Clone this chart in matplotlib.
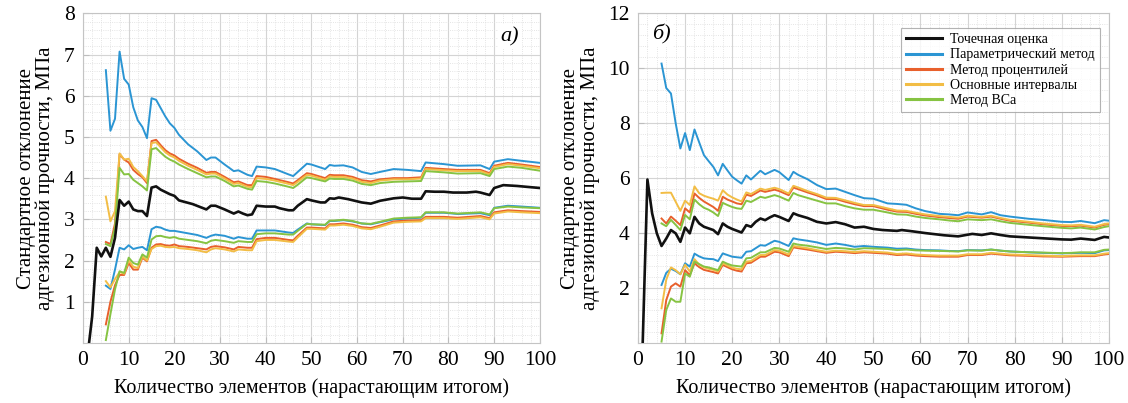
import numpy as np
import matplotlib.pyplot as plt
from matplotlib.ticker import MultipleLocator

plt.rcParams['font.family'] = ['Liberation Serif', 'DejaVu Serif']
plt.rcParams['font.serif'] = ['Liberation Serif', 'DejaVu Serif']

names = ['Точечная оценка', 'Параметрический метод', 'Метод процентилей',
         'Основные интервалы', 'Метод BCa']
colors = ['#111111', '#2b95d3', '#e8602c', '#f2bd45', '#86c342']

# ---- panel a) ----
x_pt_a = [1, 2, 3, 4, 5, 6, 7, 8, 9, 10, 11, 12, 13, 14, 15, 16, 17,
          19, 20, 21, 24, 27, 28, 29, 31, 33, 34, 35, 36, 37, 38,
          40, 42, 43, 45, 46, 47, 49, 50, 52, 53, 54, 55, 56, 58,
          61, 63, 65, 68, 70, 72, 74, 75, 77, 79, 81, 84, 86, 87, 89, 90, 92, 95, 100]
pt_a = [-0.3, 0.64, 2.31, 2.1, 2.31, 2.09, 2.55, 3.47, 3.33, 3.43, 3.24, 3.2, 3.2, 3.08, 3.77, 3.8, 3.72,
        3.61, 3.57, 3.46, 3.37, 3.24, 3.33, 3.33, 3.24, 3.14, 3.19, 3.14, 3.1, 3.12, 3.33,
        3.31, 3.31, 3.27, 3.22, 3.22, 3.33, 3.49, 3.46, 3.41, 3.41, 3.51, 3.5, 3.53, 3.49,
        3.41, 3.38, 3.45, 3.51, 3.53, 3.5, 3.5, 3.68, 3.67, 3.67, 3.65, 3.65, 3.67, 3.65, 3.59, 3.76, 3.83, 3.81, 3.76]

x_ci_a = [5, 6, 7, 8, 9, 10, 11, 12, 13, 14, 15, 16, 17, 18, 19, 20, 21,
          23, 25, 27, 28, 29, 31, 33, 34, 36, 37, 38,
          40, 42, 45, 46, 47, 49, 50, 53, 54, 55, 57, 59,
          61, 63, 65, 68, 71, 74, 75, 79, 82, 87, 89, 90, 93, 96, 100]

param_hi_a = [6.62, 5.15, 5.44, 7.07, 6.41, 6.27, 5.72, 5.4, 5.24, 4.97, 5.94, 5.9, 5.7, 5.5, 5.33, 5.22, 5.05,
              4.82, 4.65, 4.44, 4.5, 4.5, 4.33, 4.17, 4.19, 4.08, 4.05, 4.28,
              4.26, 4.22, 4.09, 4.05, 4.15, 4.35, 4.33, 4.22, 4.32, 4.3, 4.31, 4.26,
              4.15, 4.1, 4.15, 4.22, 4.2, 4.17, 4.38, 4.34, 4.3, 4.31, 4.22, 4.4, 4.46, 4.42, 4.37]
perc_hi_a = [2.45, 2.4, 2.9, 4.58, 4.45, 4.38, 4.2, 4.1, 4.02, 3.88, 4.9, 4.93, 4.8, 4.68, 4.6, 4.55, 4.47,
             4.35, 4.25, 4.13, 4.15, 4.15, 4.03, 3.9, 3.92, 3.83, 3.83, 4.05,
             4.03, 3.98, 3.9, 3.87, 3.95, 4.12, 4.1, 4.0, 4.08, 4.07, 4.07, 4.03,
             3.95, 3.92, 3.97, 4.0, 4.0, 4.02, 4.25, 4.22, 4.2, 4.2, 4.12, 4.3, 4.37, 4.33, 4.27]
basic_hi_a = [3.55, 2.95, 3.2, 4.6, 4.45, 4.47, 4.27, 4.17, 4.05, 3.92, 4.85, 4.87, 4.75, 4.63, 4.55, 4.5, 4.42,
              4.3, 4.2, 4.09, 4.11, 4.11, 3.99, 3.86, 3.88, 3.79, 3.78, 4.0,
              3.98, 3.94, 3.86, 3.83, 3.91, 4.08, 4.06, 3.96, 4.04, 4.03, 4.03, 3.99,
              3.91, 3.88, 3.94, 3.97, 3.97, 3.99, 4.22, 4.19, 4.17, 4.17, 4.09, 4.27, 4.34, 4.3, 4.24]
bca_hi_a = [2.4, 2.35, 2.8, 4.25, 4.09, 4.1, 3.96, 3.88, 3.8, 3.7, 4.7, 4.73, 4.62, 4.52, 4.45, 4.4, 4.33,
            4.22, 4.12, 4.02, 4.04, 4.04, 3.93, 3.8, 3.82, 3.74, 3.72, 3.93,
            3.91, 3.87, 3.79, 3.76, 3.84, 4.02, 4.0, 3.92, 3.99, 3.98, 3.98, 3.94,
            3.86, 3.83, 3.88, 3.91, 3.92, 3.93, 4.17, 4.14, 4.11, 4.12, 4.05, 4.22, 4.28, 4.25, 4.18]

param_lo_a = [1.39, 1.31, 1.78, 2.31, 2.27, 2.37, 2.28, 2.31, 2.33, 2.25, 2.76, 2.82, 2.8, 2.75, 2.72, 2.72, 2.7,
              2.66, 2.62, 2.55, 2.6, 2.63, 2.6, 2.53, 2.57, 2.53, 2.53, 2.73,
              2.73, 2.73, 2.68, 2.67, 2.75, 2.9, 2.88, 2.86, 2.96, 2.96, 2.98, 2.95,
              2.9, 2.88, 2.93, 3.0, 3.02, 3.04, 3.16, 3.16, 3.13, 3.15, 3.1, 3.28, 3.33, 3.31, 3.28]
perc_lo_a = [0.45, 1.0, 1.4, 1.65, 1.65, 1.94, 1.78, 1.78, 2.07, 1.98, 2.31, 2.39, 2.4, 2.37, 2.36, 2.39, 2.35,
             2.33, 2.3, 2.27, 2.33, 2.35, 2.32, 2.27, 2.33, 2.31, 2.31, 2.52,
             2.55, 2.55, 2.5, 2.49, 2.6, 2.8, 2.8, 2.78, 2.88, 2.88, 2.9, 2.87,
             2.81, 2.79, 2.85, 2.95, 2.97, 2.98, 3.06, 3.06, 3.04, 3.08, 3.03, 3.17, 3.22, 3.2, 3.18]
basic_lo_a = [1.5, 1.35, 1.55, 1.72, 1.68, 2.0, 1.85, 1.82, 2.1, 2.0, 2.28, 2.35, 2.36, 2.33, 2.32, 2.33, 2.3,
              2.28, 2.25, 2.2, 2.27, 2.3, 2.27, 2.22, 2.27, 2.25, 2.25, 2.47,
              2.5, 2.5, 2.46, 2.45, 2.56, 2.77, 2.77, 2.75, 2.85, 2.85, 2.87, 2.84,
              2.78, 2.76, 2.82, 2.92, 2.94, 2.95, 3.03, 3.03, 3.01, 3.05, 3.0, 3.14, 3.19, 3.17, 3.15]
bca_lo_a = [0.07, 0.7, 1.3, 1.74, 1.7, 2.07, 1.94, 1.9, 2.15, 2.07, 2.51, 2.59, 2.6, 2.57, 2.55, 2.57, 2.53,
            2.5, 2.47, 2.42, 2.48, 2.5, 2.47, 2.43, 2.47, 2.45, 2.45, 2.64,
            2.66, 2.66, 2.63, 2.63, 2.72, 2.89, 2.88, 2.87, 2.97, 2.97, 2.99, 2.96,
            2.9, 2.89, 2.94, 3.02, 3.04, 3.05, 3.17, 3.17, 3.14, 3.17, 3.12, 3.27, 3.31, 3.29, 3.27]

# ---- panel б) ----
x_pt_b = [1, 2, 3, 4, 5, 6, 7, 8, 9, 10, 11, 12, 13, 14, 15, 16, 17, 18, 19, 20,
          22, 23, 24, 25, 26, 27, 28, 29, 30,
          32, 33, 34, 36, 38, 40, 42, 44, 46, 48, 50, 52, 55, 56, 58, 61, 63, 65, 68, 70, 71,
          73, 75, 77, 79, 83, 86, 88, 90, 92, 94, 97, 99, 100]
pt_b = [0.0, 5.95, 4.72, 3.99, 3.53, 3.8, 4.11, 3.99, 3.68, 4.2, 3.99, 4.59, 4.35, 4.23, 4.17, 4.11, 3.96, 4.35, 4.23, 4.15,
        4.02, 4.29, 4.23, 4.41, 4.53, 4.47, 4.57, 4.65, 4.59,
        4.44, 4.72, 4.65, 4.55, 4.41, 4.35, 4.4, 4.32, 4.2, 4.23, 4.15, 4.11, 4.08, 4.11, 4.07, 4.0, 3.96, 3.92, 3.88, 3.94, 3.97,
        3.93, 3.99, 3.93, 3.88, 3.84, 3.81, 3.79, 3.77, 3.76, 3.8, 3.75, 3.86, 3.84]

x_ci_b = [5, 6, 7, 8, 9, 10, 11, 12, 13, 14, 15, 16, 17, 18, 19, 20, 21, 22, 23, 24,
          26, 27, 29, 30, 32, 33, 34, 36, 38, 40, 42, 44, 46, 48, 50, 53, 55, 57, 59, 61,
          64, 66, 68, 70, 73, 75, 77, 79, 83, 86, 90, 92, 94, 97, 99, 100]

param_hi_b = [10.17, 9.28, 9.08, 8.0, 7.08, 7.64, 7.02, 7.77, 7.3, 6.84, 6.62, 6.41, 6.1, 6.52, 6.28, 6.05, 5.92, 5.8, 6.1, 5.95,
              6.27, 6.14, 6.3, 6.22, 5.93, 6.23, 6.12, 5.96, 5.75, 5.6, 5.62, 5.5, 5.38, 5.27, 5.25, 5.08, 5.06, 5.03, 4.9, 4.8,
              4.7, 4.68, 4.65, 4.75, 4.68, 4.76, 4.65, 4.6, 4.52, 4.48, 4.41, 4.4, 4.44, 4.36, 4.47, 4.45]
perc_hi_b = [4.53, 4.35, 4.6, 4.45, 4.29, 4.9, 4.75, 5.44, 5.28, 5.15, 5.05, 4.95, 4.81, 5.32, 5.22, 5.15, 5.08, 5.05, 5.4, 5.35,
             5.55, 5.5, 5.58, 5.53, 5.38, 5.66, 5.6, 5.48, 5.37, 5.24, 5.24, 5.14, 5.05, 4.98, 4.98, 4.85, 4.78, 4.77, 4.7, 4.64,
             4.58, 4.55, 4.52, 4.6, 4.56, 4.6, 4.52, 4.45, 4.38, 4.32, 4.26, 4.25, 4.27, 4.2, 4.3, 4.32]
basic_hi_b = [5.46, 5.47, 5.47, 5.14, 4.81, 5.18, 5.02, 5.7, 5.45, 5.36, 5.3, 5.25, 5.18, 5.56, 5.4, 5.3, 5.22, 5.15, 5.48, 5.42,
              5.62, 5.57, 5.65, 5.6, 5.44, 5.72, 5.66, 5.53, 5.42, 5.29, 5.28, 5.19, 5.1, 5.02, 5.02, 4.9, 4.82, 4.81, 4.74, 4.68,
              4.62, 4.59, 4.56, 4.63, 4.59, 4.63, 4.55, 4.48, 4.41, 4.35, 4.29, 4.28, 4.3, 4.23, 4.33, 4.35]
bca_hi_b = [4.35, 4.25, 4.48, 4.3, 4.11, 4.66, 4.5, 5.22, 5.05, 4.92, 4.85, 4.75, 4.62, 5.1, 5.02, 4.95, 4.9, 4.88, 5.18, 5.13,
            5.32, 5.28, 5.38, 5.33, 5.18, 5.46, 5.38, 5.28, 5.18, 5.08, 5.08, 4.98, 4.9, 4.85, 4.85, 4.75, 4.68, 4.67, 4.6, 4.55,
            4.5, 4.46, 4.43, 4.5, 4.47, 4.5, 4.43, 4.37, 4.3, 4.25, 4.19, 4.17, 4.2, 4.13, 4.22, 4.25]

param_lo_b = [2.11, 2.55, 2.7, 2.62, 2.5, 2.9, 2.78, 3.25, 3.15, 3.08, 3.06, 3.05, 2.98, 3.26, 3.2, 3.14, 3.12, 3.1, 3.32, 3.34,
              3.56, 3.54, 3.72, 3.68, 3.53, 3.81, 3.77, 3.72, 3.66, 3.57, 3.62, 3.57, 3.5, 3.53, 3.5, 3.47, 3.43, 3.44, 3.4, 3.38,
              3.37, 3.35, 3.34, 3.38, 3.37, 3.4, 3.36, 3.33, 3.3, 3.28, 3.26, 3.27, 3.28, 3.27, 3.37, 3.38]
perc_lo_b = [0.35, 1.56, 2.05, 2.17, 2.05, 2.65, 2.47, 2.9, 2.76, 2.66, 2.62, 2.58, 2.53, 2.84, 2.76, 2.68, 2.63, 2.6, 2.9, 2.92,
             3.14, 3.14, 3.32, 3.3, 3.16, 3.48, 3.45, 3.4, 3.34, 3.28, 3.32, 3.3, 3.27, 3.3, 3.28, 3.25, 3.2, 3.22, 3.18, 3.16,
             3.14, 3.14, 3.14, 3.2, 3.2, 3.25, 3.22, 3.19, 3.17, 3.15, 3.14, 3.15, 3.16, 3.16, 3.22, 3.24]
basic_lo_b = [1.26, 2.3, 2.75, 2.65, 2.5, 2.85, 2.6, 3.05, 2.85, 2.75, 2.7, 2.66, 2.6, 2.9, 2.82, 2.74, 2.7, 2.68, 2.96, 2.98,
              3.2, 3.2, 3.38, 3.36, 3.22, 3.53, 3.5, 3.45, 3.38, 3.32, 3.36, 3.34, 3.31, 3.34, 3.32, 3.29, 3.24, 3.26, 3.22, 3.2,
              3.18, 3.18, 3.18, 3.23, 3.23, 3.28, 3.25, 3.22, 3.2, 3.18, 3.16, 3.18, 3.19, 3.19, 3.25, 3.27]
bca_lo_b = [0.05, 1.2, 1.62, 1.5, 1.5, 2.53, 2.41, 2.96, 2.87, 2.78, 2.75, 2.7, 2.65, 2.96, 2.88, 2.82, 2.8, 2.78, 3.08, 3.1,
            3.3, 3.3, 3.46, 3.44, 3.32, 3.62, 3.58, 3.54, 3.48, 3.42, 3.46, 3.44, 3.4, 3.45, 3.44, 3.42, 3.38, 3.4, 3.37, 3.36,
            3.35, 3.34, 3.33, 3.37, 3.36, 3.4, 3.36, 3.33, 3.3, 3.29, 3.27, 3.28, 3.3, 3.3, 3.39, 3.4]

yticks_a = [1, 2, 3, 4, 5, 6, 7, 8]
yticks_b = [2, 4, 6, 8, 10, 12]
xticks = [0, 10, 20, 30, 40, 50, 60, 70, 80, 90, 100]

fig = plt.figure(figsize=(11.28, 4.03), dpi=100)
ax_a = fig.add_axes([0.0736, 0.149, 0.405, 0.818])
ax_b = fig.add_axes([0.5656, 0.149, 0.4174, 0.818])


def draw(ax, x_pt, pt, x_ci, bands, ymax, yticks, minor_y):
    ax.plot(x_pt, pt, color=colors[0], lw=1.9, label=names[0], zorder=5)
    for k, (hi, lo) in enumerate(bands):
        c = colors[k + 1]
        ax.plot(x_ci, hi, color=c, lw=1.4, label=names[k + 1], zorder=3)
        ax.plot(x_ci, lo, color=c, lw=1.4, zorder=3)
    ax.set_xlim(0, 100)
    ax.set_ylim(0, ymax)
    ax.set_xticks(xticks)
    ax.set_xticklabels([str(t) for t in xticks], family='Liberation Serif', fontsize=15.5)
    ax.set_yticks(yticks)
    ax.set_yticklabels([str(t) for t in yticks], family='Liberation Serif', fontsize=15.5)
    ax.xaxis.set_minor_locator(MultipleLocator(2))
    ax.yaxis.set_minor_locator(MultipleLocator(minor_y))
    ax.grid(which='major', color='#d4d4d4', lw=0.8)
    ax.grid(which='minor', color='#dcdcdc', lw=0.6, ls=':')
    ax.set_axisbelow(True)
    ax.tick_params(which='both', direction='in', colors='#bdbdbd',
                   labelcolor='black', pad=6)
    ax.tick_params(which='major', length=4)
    ax.tick_params(which='minor', length=0)
    for s in ax.spines.values():
        s.set_color('#c4c4c4')
    ax.set_xlabel('Количество элементов (нарастающим итогом)', fontsize=14.5, labelpad=6)
    ax.set_ylabel('Стандартное отклонение\nадгезионной прочности, МПа', fontsize=15,
                  labelpad=6, linespacing=1.0)


draw(ax_a, x_pt_a, pt_a, x_ci_a,
     [(param_hi_a, param_lo_a), (perc_hi_a, perc_lo_a),
      (basic_hi_a, basic_lo_a), (bca_hi_a, bca_lo_a)],
     8, yticks_a, 0.2)
draw(ax_b, x_pt_b, pt_b, x_ci_b,
     [(param_hi_b, param_lo_b), (perc_hi_b, perc_lo_b),
      (basic_hi_b, basic_lo_b), (bca_hi_b, bca_lo_b)],
     12, yticks_b, 0.4)

ax_a.text(0.955, 0.93, 'а)', transform=ax_a.transAxes, fontsize=16, style='italic',
          ha='right', va='center', bbox=dict(fc='white', ec='none', pad=2), zorder=6)
ax_b.text(0.03, 0.935, 'б)', transform=ax_b.transAxes, fontsize=16, style='italic',
          ha='left', va='center', bbox=dict(fc='white', ec='none', pad=2), zorder=6)

leg = ax_b.legend(loc='upper right', bbox_to_anchor=(0.995, 0.975), fontsize=10,
                  frameon=True, fancybox=False, edgecolor='#a0a0a0',
                  handlelength=2.6, borderpad=0.35, labelspacing=0.15, handletextpad=0.6)
leg.get_frame().set_linewidth(0.8)
for ln in leg.get_lines():
    ln.set_linewidth(2.2)

fig.savefig('out.png', dpi=100)
